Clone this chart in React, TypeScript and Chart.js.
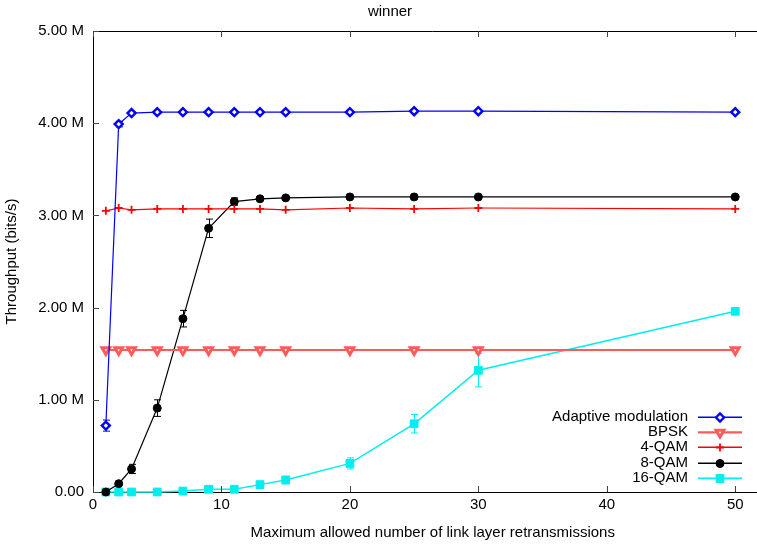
import React, { useEffect, useRef } from 'react';
import { Chart, registerables, PointElement } from 'chart.js';

Chart.register(...registerables);

const retransmissions = [1, 2, 3, 5, 7, 9, 11, 13, 15, 20, 25, 30, 50];

const adaptive = [0.72, 3.99, 4.11, 4.12, 4.12, 4.12, 4.12, 4.12, 4.12, 4.12, 4.13, 4.13, 4.12];
const adaptiveErr = [0.06, 0.03, 0.01, 0, 0, 0, 0, 0, 0, 0, 0, 0, 0];

const bpsk = [1.54, 1.54, 1.54, 1.54, 1.54, 1.54, 1.54, 1.54, 1.54, 1.54, 1.54, 1.54, 1.54];
const bpskErr = [0, 0, 0, 0, 0, 0, 0, 0, 0, 0, 0, 0, 0];

const qam4 = [3.05, 3.08, 3.06, 3.07, 3.07, 3.07, 3.07, 3.07, 3.06, 3.08, 3.07, 3.08, 3.07];
const qam4Err = [0, 0, 0, 0, 0, 0, 0, 0, 0, 0, 0, 0, 0];

const qam8 = [0.0, 0.09, 0.25, 0.91, 1.88, 2.86, 3.15, 3.18, 3.19, 3.2, 3.2, 3.2, 3.2];
const qam8Err = [0, 0.01, 0.05, 0.09, 0.09, 0.1, 0.04, 0.01, 0.01, 0, 0, 0, 0];

const qam16 = [0, 0, 0, 0, 0.01, 0.03, 0.03, 0.08, 0.13, 0.31, 0.74, 1.32, 1.96];
const qam16Err = [0, 0, 0, 0, 0, 0, 0, 0.01, 0.04, 0.06, 0.1, 0.18, 0.02];

const seriesNames = ['Adaptive modulation', 'BPSK', '4-QAM', '8-QAM', '16-QAM'];
const seriesColors = ['#0000ff', '#ff5a5a', '#ff0000', '#000000', '#00eeee'];
const seriesWidths = [1.2, 2, 1.2, 1.2, 1.5];
const xTicks = [0, 10, 20, 30, 40, 50];
const yTicks = [0, 1, 2, 3, 4, 5];

const FONT = 'Liberation Sans, Arial, Helvetica, sans-serif';

function pts(ys: number[]) {
  return ys.map((y, i) => ({ x: retransmissions[i], y }));
}

const errorsByDataset = [adaptiveErr, bpskErr, qam4Err, qam8Err, qam16Err];

const errorBarPlugin = {
  id: 'errorBars',
  beforeDatasetsDraw(chart: any) {
    const ctx = chart.ctx;
    const xs = chart.scales.x;
    const ys = chart.scales.y;
    chart.data.datasets.forEach((ds: any, di: number) => {
      const errs = errorsByDataset[di];
      ctx.save();
      ctx.strokeStyle = seriesColors[di];
      ctx.lineWidth = 1;
      ds.data.forEach((p: any, i: number) => {
        const e = errs[i];
        if (!e) return;
        const px = Math.round(xs.getPixelForValue(p.x)) + 0.5;
        const top = ys.getPixelForValue(p.y + e);
        const bot = ys.getPixelForValue(Math.max(0, p.y - e));
        ctx.beginPath();
        ctx.moveTo(px, top);
        ctx.lineTo(px, bot);
        ctx.moveTo(px - 3.5, top);
        ctx.lineTo(px + 3.5, top);
        ctx.moveTo(px - 3.5, bot);
        ctx.lineTo(px + 3.5, bot);
        ctx.stroke();
      });
      ctx.restore();
    });
  },
};

const framePlugin = {
  id: 'frame',
  afterDraw(chart: any) {
    const ctx = chart.ctx;
    const area = chart.chartArea;
    const xs = chart.scales.x;
    const ys = chart.scales.y;
    ctx.save();
    ctx.strokeStyle = '#000';
    ctx.lineWidth = 1;
    ctx.beginPath();
    ctx.moveTo(area.left, Math.round(area.top) + 0.5);
    ctx.lineTo(area.right, Math.round(area.top) + 0.5);
    ctx.stroke();
    ctx.strokeStyle = '#444';
    ctx.beginPath();
    xTicks.forEach((v) => {
      const px = Math.round(xs.getPixelForValue(v)) + 0.5;
      ctx.moveTo(px, area.bottom);
      ctx.lineTo(px, area.bottom - 6);
      ctx.moveTo(px, area.top);
      ctx.lineTo(px, area.top + 6);
    });
    yTicks.forEach((v) => {
      const py = Math.round(ys.getPixelForValue(v)) + 0.5;
      ctx.moveTo(area.left, py);
      ctx.lineTo(area.left + 6, py);
    });
    ctx.stroke();
    ctx.restore();

    // legend
    const textRight = 688;
    const lineStart = 698;
    const lineEnd = 742;
    const markX = 720;
    const rowY = [417, 432, 447, 463, 478];
    chart.data.datasets.forEach((ds: any, di: number) => {
      const y = rowY[di];
      ctx.save();
      ctx.font = '15px ' + FONT;
      ctx.textAlign = 'right';
      ctx.textBaseline = 'middle';
      ctx.fillStyle = '#000';
      ctx.fillText(seriesNames[di], textRight, y);
      ctx.strokeStyle = seriesColors[di];
      ctx.lineWidth = seriesWidths[di] + 0.3;
      ctx.beginPath();
      ctx.moveTo(lineStart, y + 0.3);
      ctx.lineTo(lineEnd, y + 0.3);
      ctx.stroke();
      ctx.restore();
      const meta = chart.getDatasetMeta(di);
      const el = meta.data[0];
      if (el) {
        const p: any = new (PointElement as any)({ x: markX, y: y + 0.5, options: el.options });
        ctx.save();
        p.draw(ctx, { left: 0, top: 0, right: 10000, bottom: 10000 });
        ctx.restore();
      }
    });
  },
};

export default function App() {
  const ref = useRef<HTMLCanvasElement | null>(null);

  useEffect(() => {
    if (!ref.current) return;
    const chart = new Chart(ref.current, {
      type: 'line',
      data: {
        datasets: [
          {
            label: seriesNames[0],
            data: pts(adaptive),
            borderColor: seriesColors[0],
            backgroundColor: '#ffffff',
            borderWidth: seriesWidths[0],
            pointStyle: 'rectRot',
            pointRadius: 4,
            pointBorderWidth: 2.4,
            clip: false,
          },
          {
            label: seriesNames[1],
            data: pts(bpsk),
            borderColor: seriesColors[1],
            backgroundColor: '#ffffff',
            borderWidth: seriesWidths[1],
            pointStyle: 'triangle',
            pointRotation: 180,
            pointRadius: 4.5,
            pointBorderWidth: 3,
            clip: false,
          },
          {
            label: seriesNames[2],
            data: pts(qam4),
            borderColor: seriesColors[2],
            backgroundColor: seriesColors[2],
            borderWidth: seriesWidths[2],
            pointStyle: 'cross',
            pointRadius: 4,
            pointBorderWidth: 1.8,
            clip: false,
          },
          {
            label: seriesNames[3],
            data: pts(qam8),
            borderColor: seriesColors[3],
            backgroundColor: seriesColors[3],
            borderWidth: seriesWidths[3],
            pointStyle: 'circle',
            pointRadius: 4,
            pointBorderWidth: 1,
            clip: false,
          },
          {
            label: seriesNames[4],
            data: pts(qam16),
            borderColor: seriesColors[4],
            backgroundColor: seriesColors[4],
            borderWidth: seriesWidths[4],
            pointStyle: 'rect',
            pointRadius: 5.5,
            pointBorderWidth: 1,
            clip: false,
          },
        ],
      },
      options: {
        animation: false,
        responsive: false,
        devicePixelRatio: 1,
        layout: { padding: 0 },
        plugins: {
          legend: { display: false },
          tooltip: { enabled: false },
          title: {
            display: true,
            text: 'winner',
            color: '#000',
            font: { family: FONT, size: 15, weight: 'normal' },
            padding: { top: 3, bottom: 10 },
          },
        },
        scales: {
          x: {
            type: 'linear',
            min: 0,
            max: 52.9,
            grid: { display: false, drawTicks: false },
            border: { display: true, color: '#000', width: 1 },
            afterBuildTicks: (s: any) => {
              s.ticks = xTicks.map((v) => ({ value: v }));
            },
            afterFit: (s: any) => {
              s.height = 52;
            },
            ticks: {
              color: '#000',
              padding: 4,
              maxRotation: 0,
              font: { family: FONT, size: 15 },
              callback: (v: any) => String(v),
            },
            title: {
              display: true,
              text: 'Maximum allowed number of link layer retransmissions',
              color: '#000',
              font: { family: FONT, size: 15 },
              padding: { top: 0, bottom: 2 },
            },
          },
          y: {
            type: 'linear',
            min: 0,
            max: 5,
            grid: { display: false, drawTicks: false },
            border: { display: true, color: '#000', width: 1 },
            afterBuildTicks: (s: any) => {
              s.ticks = yTicks.map((v) => ({ value: v }));
            },
            afterFit: (s: any) => {
              s.width = 93;
            },
            ticks: {
              color: '#000',
              padding: 9,
              font: { family: FONT, size: 15 },
              callback: (v: any) => (v === 0 ? '0.00' : Number(v).toFixed(2) + ' M'),
            },
            title: {
              display: true,
              text: 'Throughput (bits/s)',
              color: '#000',
              font: { family: FONT, size: 15 },
              padding: { top: 3, bottom: 0 },
            },
          },
        },
      },
      plugins: [errorBarPlugin, framePlugin],
    } as any);
    return () => chart.destroy();
  }, []);

  return (
    <div style={{ position: 'fixed', left: 0, top: 0, width: 757, height: 544, overflow: 'hidden', background: '#fff' }}>
      <canvas ref={ref} width={780} height={544} style={{ width: 780, height: 544, display: 'block' }} />
    </div>
  );
}
